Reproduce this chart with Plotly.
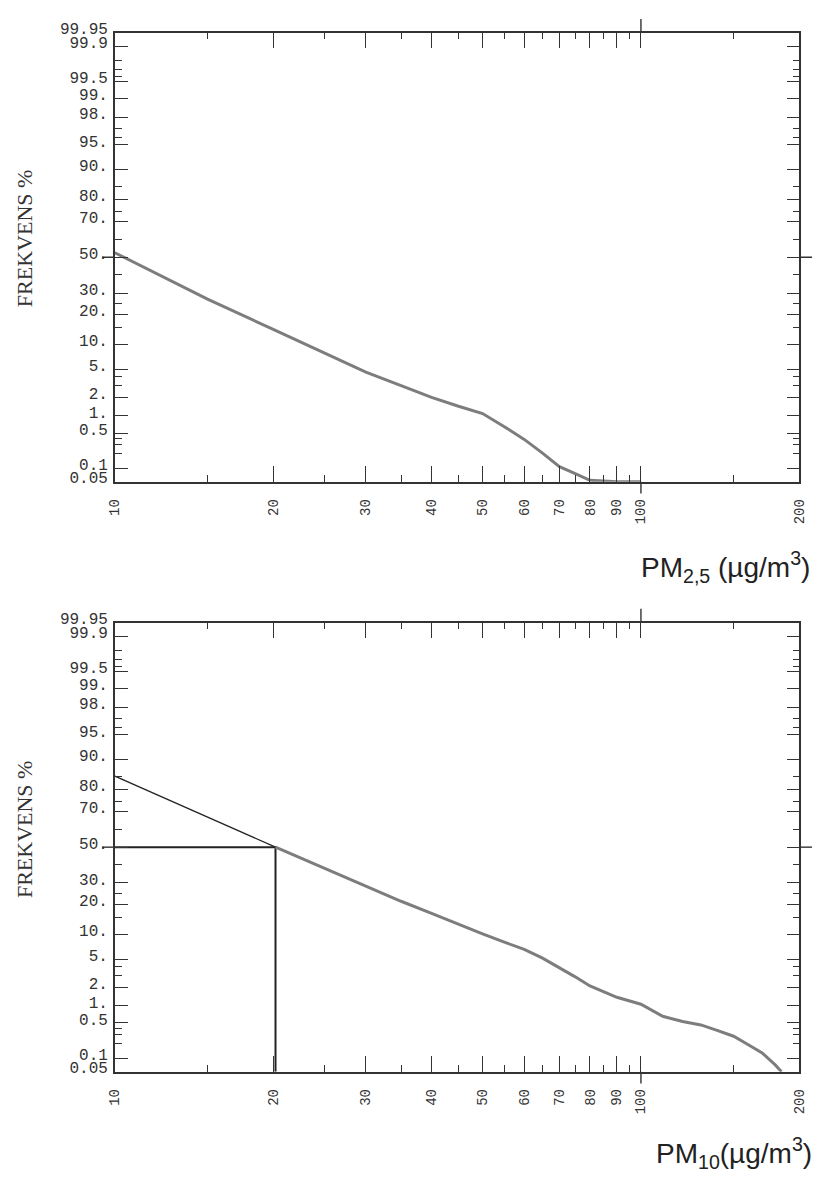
import plotly.graph_objects as go
from statistics import NormalDist

ND = NormalDist()


def probit(p):
    return ND.inv_cdf(p / 100.0)


# ---------------- data ----------------
# PM2.5 exceedance-frequency curve (concentration µg/m3, frequency %)
pm25_conc = [10, 15, 20, 25, 30, 35, 40, 45, 50, 55, 60, 65, 70, 75, 80, 90, 100]
pm25_freq = [52.6, 27.0, 14.5, 8.0, 4.6, 3.0, 2.0, 1.45, 1.1, 0.65, 0.38, 0.205,
             0.107, 0.076, 0.054, 0.05, 0.05]

# PM10 exceedance-frequency curve
pm10_conc = [20.2, 25, 30, 35, 40, 45, 50, 55, 60, 65, 70, 75, 80, 90, 100,
             110, 120, 130, 140, 150, 160, 170, 180, 185]
pm10_freq = [50, 38, 28.5, 21.4, 16.6, 12.9, 10.2, 8.2, 6.7, 5.2, 3.9, 2.87, 2.1,
             1.39, 1.07, 0.66, 0.53, 0.46, 0.36, 0.28, 0.19, 0.128, 0.071, 0.05]

# PM10 extrapolated segment and median marker
pm10_ext_conc = [10, 20.2]
pm10_ext_freq = [85.1, 50]
pm10_median_conc = 20.2
median_freq = 50
min_freq = 0.05
x_min = 10

# axis ticks
y_major_vals = [99.95, 99.9, 99.5, 99, 98, 95, 90, 80, 70, 50, 30, 20, 10, 5, 2, 1,
                0.5, 0.1, 0.05]
y_major_text = ["99.95", "99.9", "99.5", "99.", "98.", "95.", "90.", "80.", "70.",
                "50.", "30.", "20.", "10.", "5.", "2.", "1.", "0.5", "0.1", "0.05"]
y_minor_vals = [99.8, 99.7, 99.6, 97, 96, 85, 75, 60, 40, 25, 15, 4, 3, 0.4, 0.3, 0.2]
x_major_vals = [10, 20, 30, 40, 50, 60, 70, 80, 90, 100, 200]
x_major_text = ["10", "20", "30", "40", "50", "60", "70", "80", "90", "100", "200"]
x_minor_vals = [15, 25, 35, 45, 55, 65, 75, 85, 95, 150]
x_cross_tick = 100

# ---------------- figure ----------------
W, H = 824, 1191
FRAME = "#333333"
CURVE = "#7d7d7d"
MONO = "Liberation Mono, Courier New, monospace"

fig = go.Figure()

fig.add_trace(go.Scatter(x=pm25_conc, y=[probit(v) for v in pm25_freq],
                         mode="lines", line=dict(color=CURVE, width=3),
                         xaxis="x", yaxis="y", showlegend=False))

fig.add_trace(go.Scatter(x=pm10_ext_conc, y=[probit(v) for v in pm10_ext_freq],
                         mode="lines", line=dict(color="#222222", width=1.3),
                         xaxis="x2", yaxis="y2", showlegend=False))
fig.add_trace(go.Scatter(x=[x_min, pm10_median_conc, pm10_median_conc],
                         y=[probit(median_freq), probit(median_freq), probit(min_freq)],
                         mode="lines", line=dict(color="#222222", width=2),
                         xaxis="x2", yaxis="y2", showlegend=False))
fig.add_trace(go.Scatter(x=pm10_conc, y=[probit(v) for v in pm10_freq],
                         mode="lines", line=dict(color=CURVE, width=3),
                         xaxis="x2", yaxis="y2", showlegend=False))

xdom = [110 / W, 808 / W]
ydom_top = [1 - 478 / H, 1 - 22 / H]
ydom_bot = [1 - 1077 / H, 1 - 621 / H]
yr = [probit(0.05), probit(99.95)]


def xaxis_cfg(anchor):
    return dict(
        type="log", range=[1, 2.30103], domain=xdom, anchor=anchor,
        showline=True, linecolor=FRAME, linewidth=1.5, mirror="ticks",
        showgrid=False, zeroline=False,
        tickmode="array", tickvals=x_major_vals, ticktext=x_major_text,
        ticks="inside", ticklen=16, tickwidth=1.3, tickcolor=FRAME,
        tickangle=-90, ticklabelstandoff=10,
        tickfont=dict(family=MONO, size=14, color="#333333"),
        minor=dict(tickmode="array", tickvals=x_minor_vals, ticks="inside",
                   ticklen=7, tickwidth=1.2, tickcolor=FRAME, showgrid=False),
    )


def yaxis_cfg(anchor, dom):
    return dict(
        range=yr, domain=dom, anchor=anchor,
        showline=True, linecolor=FRAME, linewidth=1.5, mirror="ticks",
        showgrid=False, zeroline=False,
        tickmode="array", tickvals=[probit(v) for v in y_major_vals],
        ticktext=y_major_text,
        ticks="inside", ticklen=13, tickwidth=1.3, tickcolor=FRAME,
        ticklabelstandoff=2, ticklabelshift=-4,
        tickfont=dict(family=MONO, size=16, color="#333333"),
        minor=dict(tickmode="array", tickvals=[probit(v) for v in y_minor_vals],
                   ticks="inside", ticklen=7, tickwidth=1.2, tickcolor=FRAME,
                   showgrid=False),
    )


shapes = []
for xa, ya in (("x", "y"), ("x2", "y2")):
    # crossing ticks at 50 % (left and right) and at x = 100 (top and bottom)
    shapes.append(dict(type="line", xref=f"{xa} domain", yref=ya,
                       x0=-13 / 698, x1=0, y0=probit(median_freq), y1=probit(median_freq),
                       line=dict(color=FRAME, width=1.4)))
    shapes.append(dict(type="line", xref=f"{xa} domain", yref=ya,
                       x0=1, x1=1 + 13 / 698, y0=probit(median_freq), y1=probit(median_freq),
                       line=dict(color=FRAME, width=1.4)))
    shapes.append(dict(type="line", xref=xa, yref=f"{ya} domain",
                       x0=x_cross_tick, x1=x_cross_tick, y0=1, y1=1 + 14 / 456,
                       line=dict(color=FRAME, width=1.4)))
    shapes.append(dict(type="line", xref=xa, yref=f"{ya} domain",
                       x0=x_cross_tick, x1=x_cross_tick, y0=-12 / 456, y1=0,
                       line=dict(color=FRAME, width=1.4)))

SERIF = "Liberation Serif, Times New Roman, serif"
SANS = "Liberation Sans, Arial, sans-serif"
annotations = [
    dict(text="FREKVENS %", xref="paper", yref="paper", x=18 / W, y=1 - 231 / H,
         textangle=-90, showarrow=False, xanchor="center", yanchor="middle",
         font=dict(family=SERIF, size=22, color="#333333")),
    dict(text="FREKVENS %", xref="paper", yref="paper", x=18 / W, y=1 - 831 / H,
         textangle=-90, showarrow=False, xanchor="center", yanchor="middle",
         font=dict(family=SERIF, size=22, color="#333333")),
    dict(text="PM<sub>2,5</sub> (µg/m<sup>3</sup>)", xref="paper", yref="paper",
         x=821 / W, y=1 - 565 / H, showarrow=False, xanchor="right", yanchor="middle",
         font=dict(family=SANS, size=28, color="#222222")),
    dict(text="PM<sub>10</sub>(µg/m<sup>3</sup>)", xref="paper", yref="paper",
         x=823 / W, y=1 - 1160 / H, showarrow=False, xanchor="right", yanchor="middle",
         font=dict(family=SANS, size=28, color="#222222")),
]

fig.update_layout(
    width=W, height=H, margin=dict(l=0, r=0, t=0, b=0),
    paper_bgcolor="white", plot_bgcolor="white",
    xaxis=xaxis_cfg("y"), yaxis=yaxis_cfg("x", ydom_top),
    xaxis2=xaxis_cfg("y2"), yaxis2=yaxis_cfg("x2", ydom_bot),
    shapes=shapes, annotations=annotations, showlegend=False,
)

fig.write_html("out.html")
